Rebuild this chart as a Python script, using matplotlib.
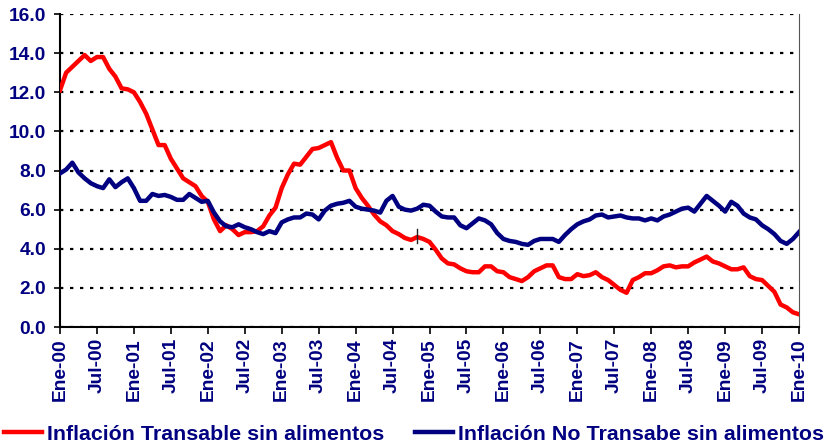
import numpy as np
import matplotlib
matplotlib.use("Agg")
import matplotlib.pyplot as plt

# monthly data, Ene-00 .. Ene-10 (121 months)
transable = [
    12.1, 13.0, 13.3, 13.6, 13.9, 13.6, 13.8, 13.8, 13.2, 12.8,
    12.2, 12.15, 12.0, 11.5, 10.9, 10.1, 9.3, 9.3, 8.6, 8.1,
    7.6, 7.4, 7.2, 6.7, 6.4, 5.5, 4.9, 5.2, 5.0, 4.7,
    4.85, 4.85, 4.9, 5.15, 5.7, 6.1, 7.1, 7.8, 8.35, 8.3,
    8.7, 9.1, 9.15, 9.3, 9.45, 8.65, 8.0, 8.0, 7.1, 6.6,
    6.2, 5.75, 5.4, 5.2, 4.9, 4.75, 4.55, 4.45, 4.6, 4.5,
    4.35, 3.95, 3.5, 3.25, 3.2, 3.0, 2.85, 2.8, 2.8, 3.1,
    3.1, 2.85, 2.8, 2.55, 2.45, 2.35, 2.55, 2.85, 3.0, 3.15,
    3.15, 2.55, 2.45, 2.45, 2.7, 2.6, 2.65, 2.8, 2.55, 2.4,
    2.15, 1.9, 1.75, 2.4, 2.55, 2.75, 2.75, 2.9, 3.1, 3.15,
    3.05, 3.1, 3.1, 3.3, 3.45, 3.6, 3.35, 3.25, 3.1, 2.95,
    2.95, 3.05, 2.6, 2.45, 2.4, 2.1, 1.8, 1.15, 1.0, 0.75,
    0.65,
]
no_transable = [
    7.85, 8.05, 8.4, 7.9, 7.6, 7.35, 7.2, 7.1, 7.55, 7.15,
    7.4, 7.6, 7.1, 6.45, 6.45, 6.8, 6.7, 6.75, 6.65, 6.5,
    6.5, 6.8, 6.6, 6.4, 6.45, 5.85, 5.4, 5.15, 5.1, 5.25,
    5.1, 5.0, 4.85, 4.75, 4.9, 4.8, 5.35, 5.5, 5.6, 5.6,
    5.8, 5.75, 5.5, 5.95, 6.2, 6.3, 6.35, 6.45, 6.15, 6.05,
    6.0, 5.95, 5.85, 6.45, 6.7, 6.15, 6.0, 5.95, 6.05, 6.25,
    6.2, 5.9, 5.65, 5.6, 5.6, 5.2, 5.05, 5.3, 5.55, 5.45,
    5.25, 4.8, 4.5, 4.4, 4.35, 4.25, 4.2, 4.4, 4.5, 4.5,
    4.5, 4.35, 4.7, 5.0, 5.25, 5.4, 5.5, 5.7, 5.75, 5.6,
    5.65, 5.7, 5.6, 5.55, 5.55, 5.45, 5.55, 5.45, 5.65, 5.75,
    5.9, 6.05, 6.1, 5.9, 6.3, 6.7, 6.45, 6.2, 5.9, 6.4,
    6.2, 5.8, 5.6, 5.5, 5.2, 5.0, 4.75, 4.4, 4.25, 4.5,
    4.85,
]
tick_labels = ['Ene-00', 'Jul-00', 'Ene-01', 'Jul-01', 'Ene-02', 'Jul-02',
               'Ene-03', 'Jul-03', 'Ene-04', 'Jul-04', 'Ene-05', 'Jul-05',
               'Ene-06', 'Jul-06', 'Ene-07', 'Jul-07', 'Ene-08', 'Jul-08',
               'Ene-09', 'Jul-09', 'Ene-10']
mark_month = 58          # little black tick drawn on the red line
mark_range = [4.3, 5.0]

navy = '#000080'
red = '#ff0000'
plt.rcParams['font.family'] = ['Liberation Sans', 'DejaVu Sans']
plt.rcParams['font.weight'] = 'bold'

months = np.arange(len(transable))

fig = plt.figure(figsize=(8.24, 4.46), dpi=100)
ax = fig.add_axes([0.0728, 0.2668, 0.8969, 0.7018])

ax.plot(months, transable, color=red, lw=3.2, solid_joinstyle='round',
        label='Inflación Transable sin alimentos', zorder=3)
ax.plot(months, no_transable, color=navy, lw=3.2, solid_joinstyle='round',
        label='Inflación No Transabe sin alimentos', zorder=3)
ax.plot([mark_month, mark_month], mark_range, color='#222222', lw=1.0, zorder=4)

ax.set_xlim(0, len(transable) - 1)
ax.set_ylim(0, 16)
ax.set_yticks(np.arange(0, 17, 2))
ax.set_yticklabels([f"{v:.1f}" for v in np.arange(0, 17, 2)])
ax.set_xticks(np.arange(0, len(transable), 6))
ax.set_xticklabels(tick_labels, rotation=90)

ax.tick_params(axis='y', labelsize=13.8, labelcolor=navy, length=4, width=1.2, pad=6)
ax.tick_params(axis='x', labelsize=13.8, labelcolor=navy, length=5, width=1.2, pad=3)
ax.yaxis.grid(True, linestyle=(0, (1.5, 3)), color='black', lw=1.6)
ax.set_axisbelow(True)

ax.spines['top'].set_visible(False)
ax.spines['right'].set_color('#555555')
ax.spines['left'].set_linewidth(1.5)
ax.spines['bottom'].set_linewidth(1.5)

leg = fig.legend(loc='lower left', bbox_to_anchor=(0.0, -0.004), ncol=2,
                 frameon=False, fontsize=15.4, handlelength=1.75,
                 handletextpad=0.25, columnspacing=1.45, borderaxespad=0.0,
                 borderpad=0.2)
for t in leg.get_texts():
    t.set_color(navy)

fig.savefig('out.png', dpi=100)
